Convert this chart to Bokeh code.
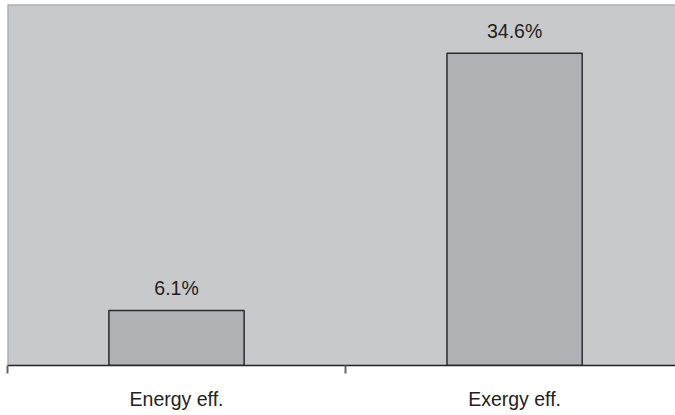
from bokeh.plotting import figure
from bokeh.models import Range1d, LinearAxis, FixedTicker, Span
from bokeh.core.properties import value
from bokeh.embed import file_html
from bokeh.resources import INLINE

# Efficiency values (%) for the two categories
categories = ["Energy eff.", "Exergy eff."]
efficiency = [6.1, 34.6]
value_labels = ["6.1%", "34.6%"]

X_END = 1.976
Y_END = 40

centers = [i + 0.5 for i in range(len(categories))]
boundaries = [float(i) for i in range(len(categories) + 1) if i <= X_END]

FONT = "Liberation Sans"

p = figure(
    width=675, height=415,
    x_range=Range1d(0, X_END), y_range=Range1d(0, Y_END),
    x_axis_type=None, y_axis_type=None,
    output_backend="svg", toolbar_location=None,
    min_border_left=7, min_border_top=4, min_border_right=0, min_border_bottom=50,
)
p.background_fill_color = "#c8c9cb"
p.border_fill_color = "white"
p.outline_line_color = None
p.xgrid.visible = False
p.ygrid.visible = False

# Bars
p.vbar(x=centers, top=efficiency, width=0.4, bottom=0,
       fill_color="#b0b1b4", line_color="#2b2b2b", line_width=1.5)

# Value labels above the bars
p.text(x=centers, y=efficiency, text=value_labels,
       text_align="center", text_baseline="alphabetic", y_offset=-22,
       text_font=value(FONT), text_font_size="19.5px", text_color="#222222")

# Frame borders on the left and top
p.add_layout(Span(location=0, dimension="height", line_color="#a3a4a6", line_width=2))
p.add_layout(Span(location=Y_END, dimension="width", line_color="#a3a4a6", line_width=2))

# Category axis: labels at the bar centres, ticks at the category boundaries
xaxis = LinearAxis(
    ticker=FixedTicker(ticks=centers, minor_ticks=boundaries),
    major_label_overrides={c: lab for c, lab in zip(centers, categories)},
)
xaxis.axis_line_color = "#222222"
xaxis.axis_line_width = 1.5
xaxis.major_tick_out = 0
xaxis.major_tick_in = 0
xaxis.minor_tick_out = 8
xaxis.minor_tick_in = 0
xaxis.minor_tick_line_color = "#666666"
xaxis.minor_tick_line_width = 2
xaxis.major_label_standoff = 14
xaxis.major_label_text_font = FONT
xaxis.major_label_text_font_size = "19.5px"
xaxis.major_label_text_color = "#222222"
p.add_layout(xaxis, "below")

open("out.html", "w").write(file_html(p, INLINE))
